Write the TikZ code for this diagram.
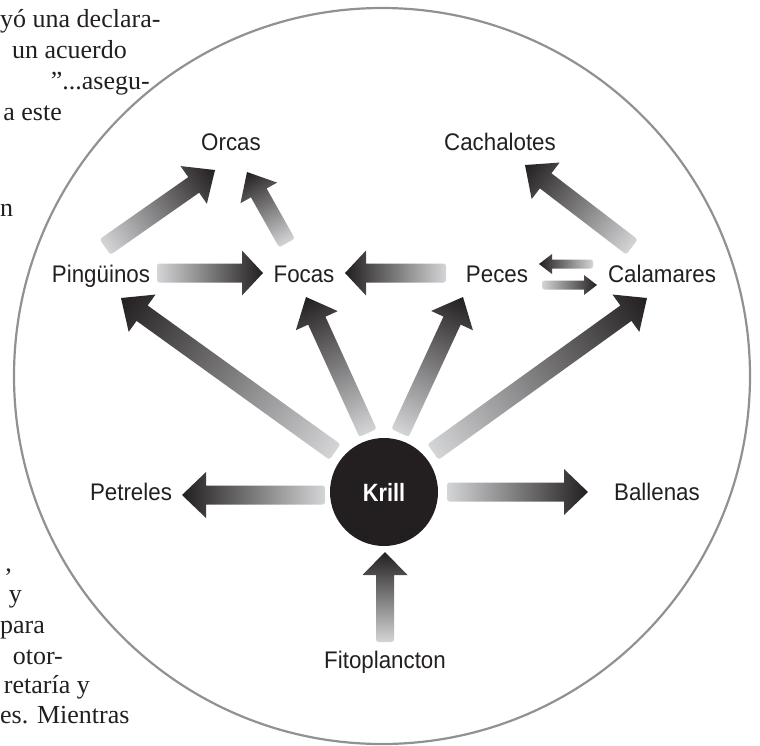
\documentclass[tikz,border=0pt]{standalone}
\usepackage{fontspec}
\newfontfamily\labfont{Liberation Sans}[FakeStretch=0.93]
\newfontfamily\krillfont{Liberation Sans}[FakeStretch=0.87]
\newfontfamily\bodyfont{Liberation Serif}
\usetikzlibrary{calc}
\definecolor{ink}{RGB}{35,31,32}
\definecolor{arlight}{RGB}{212,213,215}
\definecolor{ardark}{RGB}{35,31,32}
\definecolor{ringgray}{RGB}{145,145,147}

% block arrow: #1 tail coordinate, #2 tip coordinate, #3 shaft half-width, #4 head half-width, #5 head length
\newcommand\blockarrow[5]{%
  \path let \p1=($(#2)-(#1)$) in \pgfextra{%
    \pgfmathsetmacro\baang{atan2(\y1,\x1)}%
    \pgfmathsetmacro\balen{veclen(\x1,\y1)}%
    \xdef\gbaang{\baang}\xdef\gbalen{\balen}};
  \begin{scope}[transform canvas={shift={(#1)},rotate=\gbaang}]
    \pgfmathsetmacro\bah{\gbalen-#5}
    \shade[left color=arlight,right color=ardark]
      (\gbalen pt,0pt) -- (\bah pt,#4pt) -- (\bah pt,#3pt)
      [rounded corners=2.5pt] -- (0pt,#3pt) -- (0pt,-#3pt)
      [sharp corners] -- (\bah pt,-#3pt) -- (\bah pt,-#4pt) -- cycle;
  \end{scope}}

\begin{document}
\begin{tikzpicture}[x=1pt,y=-1pt,
  lab/.style={font=\labfont\fontsize{24}{28}\selectfont, text=ink, anchor=base, inner sep=0pt},
  body/.style={font=\bodyfont\fontsize{26}{30}\selectfont, text=ink, anchor=base east, inner sep=0pt}]
\useasboundingbox (0,0) rectangle (760,745);

% page text around the figure
\node[body, anchor=base west] (t1) at (0,27) {yó una declara-};
\node[body] (t2) at (127,58) {un acuerdo};
\node[body] (t3) at (150,89) {”...asegu-};
\node[body] (t4) at (62,120) {a este};
\node[body, anchor=base west] (t5) at (0,216) {n};
\node[body] (t6) at (12,571) {,};
\node[body] (t7) at (22,602) {y};
\node[body, anchor=base west] (t8) at (0,633) {para};
\node[body] (t9) at (63,664) {otor-};
\node[body] (t10) at (90,693) {retaría y};
\node[body, anchor=base west] (t11) at (0,723) {es. Mientras};

% outer ring
\draw[ringgray, line width=2.2pt] (382,376) circle[radius=368pt];

% nodes
\node[circle, fill=ink, minimum size=108pt, inner sep=0pt, text=white,
      font=\krillfont\bfseries\fontsize{25}{28}\selectfont] (krill) at (384,492) {Krill};
\node[lab] (orcas) at (231,150) {Orcas};
\node[lab] (cacha) at (500,150) {Cachalotes};
\node[lab] (ping) at (101,282) {Pingüinos};
\node[lab] (focas) at (304,282) {Focas};
\node[lab] (peces) at (497,282) {Peces};
\node[lab] (calam) at (662,282) {Calamares};
\node[lab] (petre) at (131,500) {Petreles};
\node[lab] (balle) at (657,500) {Ballenas};
\node[lab] (fito) at (385,668) {Fitoplancton};

% arrow end points
\coordinate (a1t) at (335,452); \coordinate (a1h) at (121,298);
\coordinate (a2t) at (368,433); \coordinate (a2h) at (306,297);
\coordinate (a3t) at (400,433); \coordinate (a3h) at (463,297);
\coordinate (a4t) at (433,452); \coordinate (a4h) at (647,298);
\coordinate (a5t) at (325,495); \coordinate (a5h) at (182,495);
\coordinate (a6t) at (447,492); \coordinate (a6h) at (588,492);
\coordinate (a7t) at (385,642); \coordinate (a7h) at (385,552);
\coordinate (a8t) at (157,273); \coordinate (a8h) at (263,273);
\coordinate (a9t) at (446,273); \coordinate (a9h) at (345,273);
\coordinate (a10t) at (105,247); \coordinate (a10h) at (215,170);
\coordinate (a11t) at (287,243); \coordinate (a11h) at (247,172);
\coordinate (a12t) at (632,247); \coordinate (a12h) at (525,165);
\coordinate (a13t) at (593,264); \coordinate (a13h) at (539,264);
\coordinate (a14t) at (542,285); \coordinate (a14h) at (597,285);

\blockarrow{a1t}{a1h}{9.5}{23}{26}
\blockarrow{a2t}{a2h}{9.5}{23}{26}
\blockarrow{a3t}{a3h}{9.5}{23}{26}
\blockarrow{a4t}{a4h}{9.5}{23}{26}
\blockarrow{a5t}{a5h}{9.5}{23}{24}
\blockarrow{a6t}{a6h}{9.5}{23}{24}
\blockarrow{a7t}{a7h}{9}{22.5}{23}
\blockarrow{a8t}{a8h}{9.5}{22.5}{21}
\blockarrow{a9t}{a9h}{9.5}{22.5}{21}
\blockarrow{a10t}{a10h}{9.5}{23}{26}
\blockarrow{a11t}{a11h}{9}{21}{24}
\blockarrow{a12t}{a12h}{9.5}{23}{26}
\blockarrow{a13t}{a13h}{4.5}{10}{13}
\blockarrow{a14t}{a14h}{4.5}{10}{13}
\end{tikzpicture}
\end{document}
